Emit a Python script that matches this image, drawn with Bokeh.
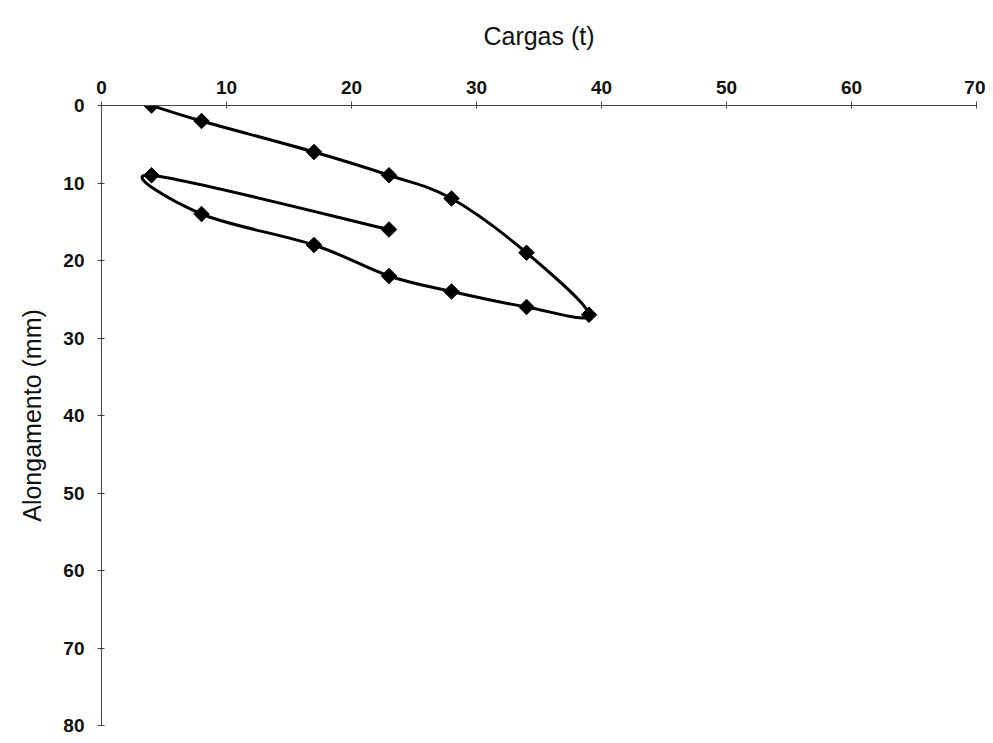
import numpy as np
from bokeh.plotting import figure
from bokeh.models import Range1d, LinearAxis, FixedTicker
from bokeh.embed import file_html
from bokeh.resources import INLINE

# Data
cargas = [4, 8, 17, 23, 28, 34, 39, 34, 28, 23, 17, 8, 4, 23]
alongamento = [0, 2, 6, 9, 12, 19, 27, 26, 24, 22, 18, 14, 9, 16]
x_ticks = [0, 10, 20, 30, 40, 50, 60, 70]
y_ticks = [0, 10, 20, 30, 40, 50, 60, 70, 80]

W, H = 985, 735
BL, BT, BR, BB = 101, 105, 9, 10
p = figure(width=W, height=H, output_backend="svg", toolbar_location=None,
           x_range=Range1d(0, 70), y_range=Range1d(80, 0),
           x_axis_location=None, y_axis_location=None,
           min_border_left=BL, min_border_top=BT, min_border_right=BR, min_border_bottom=BB)
p.grid.visible = False
p.outline_line_color = None

FONT = "Liberation Sans"

xax = LinearAxis(axis_label="Cargas (t)", ticker=FixedTicker(ticks=x_ticks))
yax = LinearAxis(axis_label="Alongamento (mm)", ticker=FixedTicker(ticks=y_ticks))
for ax in (xax, yax):
    ax.axis_label_text_font = FONT
    ax.axis_label_text_font_style = "normal"
    ax.axis_label_text_font_size = "25px"
    ax.major_label_text_font = FONT
    ax.major_label_text_font_style = "bold"
    ax.major_label_text_font_size = "19px"
    ax.major_label_text_color = "#111111"
    ax.axis_label_text_color = "#111111"
    ax.axis_line_color = "#444444"
    ax.major_tick_line_color = "#444444"
    ax.major_tick_in = 3
    ax.major_tick_out = 4
    ax.minor_tick_line_color = None
xax.axis_label_standoff = 28
yax.axis_label_standoff = 14
xax.major_label_standoff = 8
yax.major_label_standoff = 13
p.add_layout(xax, "above")
p.add_layout(yax, "left")

# Smoothed line: Catmull-Rom segments drawn as cubic Bezier curves
x = np.array(cargas, dtype=float)
y = np.array(alongamento, dtype=float)
xp = np.concatenate([[x[0]], x, [x[-1]]])
yp = np.concatenate([[y[0]], y, [y[-1]]])
tx = xp[2:] - xp[:-2]
ty = yp[2:] - yp[:-2]
x0, y0, x1, y1 = x[:-1], y[:-1], x[1:], y[1:]
cx0 = x0 + tx[:-1] / 6.0
cy0 = y0 + ty[:-1] / 6.0
cx1 = x1 - tx[1:] / 6.0
cy1 = y1 - ty[1:] / 6.0
p.bezier(x0=x0, y0=y0, x1=x1, y1=y1, cx0=cx0, cy0=cy0, cx1=cx1, cy1=cy1,
         line_color="black", line_width=3)

p.scatter(cargas, alongamento, marker="square", angle=np.pi / 4, size=11,
          fill_color="black", line_color="black")

open("out.html", "w").write(file_html(p, INLINE))
